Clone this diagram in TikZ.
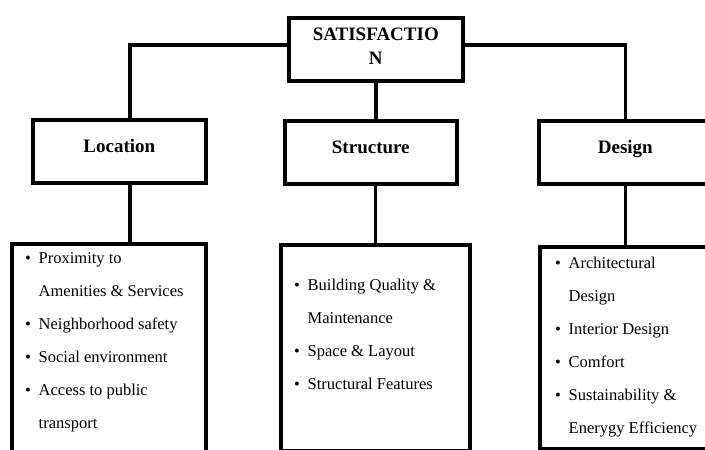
\documentclass[tikz,border=0pt]{standalone}
\usepackage{fontspec}
\setmainfont{Liberation Serif}
\newcommand\lstitem[1]{\makebox[13.5pt][l]{\textbullet}#1}
\newcommand\lstcont[1]{\hspace*{13.5pt}#1}
\tikzset{
  conn/.style={line width=3.6pt},
  boxnode/.style={draw, line width=3.6pt, rectangle, inner sep=0pt, anchor=north west},
  headbox/.style={boxnode, font=\fontsize{19}{21}\bfseries\selectfont, text height=13pt, text depth=10pt},
  listtext/.style={anchor=base west, inner sep=0pt, font=\fontsize{16.5}{33}\selectfont},
}
\begin{document}
\begin{tikzpicture}[x=1pt, y=-1pt]
\useasboundingbox (0,0) rectangle (705,450);
\fill[white] (0,0) rectangle (705,450);
\clip (0,0) rectangle (705,450);

% top
\node[boxnode, align=center, minimum width=174pt, minimum height=63pt,
      font=\fontsize{19}{24}\bfseries\selectfont] (sat) at (287,16)
      {SATISFACTIO\\N\rule[-6pt]{0pt}{6pt}};

% second level
\node[headbox, minimum width=173pt, minimum height=63pt] (loc) at (31,118) {Location};
\node[headbox, minimum width=172pt, minimum height=63pt] (str) at (283,119) {Structure};
\node[headbox, minimum width=173pt, minimum height=63pt] (des) at (537,119) {Design};

% list boxes
\node[boxnode, minimum width=194pt, minimum height=240pt] (locl) at (10,242) {};
\node[boxnode, minimum width=189pt, minimum height=206pt] (strl) at (279,243) {};
\node[boxnode, minimum width=185pt, minimum height=202pt] (desl) at (538,245) {};

% connectors
\draw[conn] ([yshift=4.5pt]sat.west) -| ([xshift=10.5pt]loc.north);
\draw[conn] ([yshift=4.5pt]sat.east) -| (des.north);
\draw[conn] (sat.south) -- (sat.south |- str.north);
\draw[conn] ([xshift=10.5pt]loc.south) -- ([xshift=10.5pt]loc.south |- locl.north);
\draw[conn] ([xshift=4.5pt]str.south) -- ([xshift=4.5pt]str.south |- strl.north);
\draw[conn] (des.south) -- (des.south |- desl.north);

% list texts
\node[listtext] (loct) at (25,263) {\parbox[t]{180pt}{%
\lstitem{Proximity to}\\
\lstcont{Amenities \& Services}\\
\lstitem{Neighborhood safety}\\
\lstitem{Social environment}\\
\lstitem{Access to public}\\
\lstcont{transport}}};

\node[listtext] (strt) at (294,290) {\parbox[t]{170pt}{%
\lstitem{Building Quality \&}\\
\lstcont{Maintenance}\\
\lstitem{Space \& Layout}\\
\lstitem{Structural Features}}};

\node[listtext] (dest) at (555,268) {\parbox[t]{150pt}{%
\lstitem{Architectural}\\
\lstcont{Design}\\
\lstitem{Interior Design}\\
\lstitem{Comfort}\\
\lstitem{Sustainability \&}\\
\lstcont{Enerygy Efficiency}}};
\end{tikzpicture}
\end{document}
